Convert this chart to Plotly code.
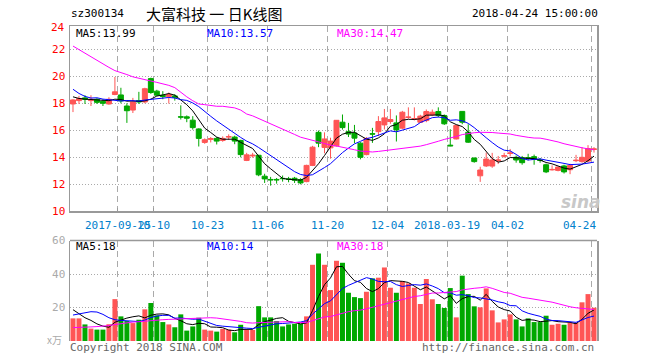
import pandas as pd
import plotly.graph_objects as go

# ---------------- data ----------------
segments = [("2017-09-13", "2017-09-29"), ("2017-10-09", "2017-12-15"),
            ("2018-03-19", "2018-04-04"), ("2018-04-09", "2018-04-24")]
dates = [d.strftime("%Y-%m-%d") for s, e in segments for d in pd.bdate_range(s, e)]

opens = [17.95, 18.2, 18.4, 18.2, 18.3, 18.15, 17.95, 18.65, 18.62, 17.8,
         17.5, 18.2, 18.1, 19.83, 18.9, 18.6, 18.5, 18.55, 17.0, 17.0,
         16.75, 16.1, 15.1, 15.33, 15.4, 15.25, 15.5, 15.5, 15.25, 13.77,
         14.1, 14.15, 12.6, 12.36, 12.36, 12.44, 12.4, 12.45, 12.35, 12.2,
         13.4, 15.85, 14.73, 14.7, 14.85, 16.6, 15.9, 15.8, 15.05, 14.2,
         15.75, 15.9, 16.4, 16.65, 16.55, 16.16, 16.95, 16.83, 16.6, 16.72,
         17.14, 17.39, 17.1, 14.9, 15.36, 17.4, 15.86, 13.95, 12.63, 13.36,
         13.35, 13.75, 14.08, 14.28, 14.0, 13.97, 13.97, 14.05, 13.8, 13.45,
         13.07, 13.03, 13.36, 13.08, 13.75, 13.68, 13.72, 14.58]
highs = [18.3, 18.55, 18.6, 18.6, 18.38, 18.3, 18.45, 19.95, 19.15, 18.0,
         18.4, 18.85, 19.15, 19.9, 19.0, 18.9, 18.8, 18.67, 17.85, 17.1,
         17.05, 16.15, 15.4, 15.5, 15.5, 15.55, 15.7, 15.6, 15.3, 14.33,
         14.33, 14.18, 12.78, 12.55, 12.47, 12.65, 12.55, 12.55, 12.45, 13.45,
         14.85, 15.98, 15.85, 15.45, 16.75, 17.17, 16.55, 16.4, 15.12, 15.5,
         16.18, 17.05, 17.58, 17.58, 17.1, 17.44, 17.7, 17.7, 17.15, 17.54,
         17.54, 17.7, 17.17, 16.08, 16.4, 17.42, 16.45, 13.97, 13.3, 14.35,
         14.33, 14.1, 14.33, 14.62, 14.13, 14.1, 14.26, 14.2, 13.94, 13.53,
         13.4, 13.28, 13.45, 13.52, 14.18, 14.75, 14.9, 14.75]
lows = [17.35, 17.95, 17.95, 17.8, 17.95, 17.8, 17.9, 18.6, 18.0, 16.55,
        17.28, 17.95, 18.0, 18.7, 18.55, 18.3, 17.98, 18.2, 16.8, 16.6,
        16.05, 14.8, 15.0, 15.1, 14.95, 15.15, 15.3, 14.97, 14.0, 13.72,
        13.97, 12.6, 12.1, 11.9, 12.05, 12.2, 12.15, 12.1, 12.0, 12.15,
        13.35, 14.75, 14.3, 13.9, 14.8, 16.05, 15.5, 15.05, 13.85, 14.15,
        15.07, 15.57, 16.06, 16.48, 15.17, 16.1, 16.85, 16.73, 16.55, 16.6,
        17.05, 16.97, 16.4, 14.82, 15.32, 16.45, 15.07, 13.6, 12.18, 13.28,
        13.22, 13.5, 13.97, 14.07, 13.6, 13.45, 13.77, 13.45, 13.6, 12.83,
        13.02, 12.96, 12.8, 12.75, 13.64, 13.6, 13.6, 14.35]
closes = [18.25, 18.35, 18.3, 18.3, 18.07, 18.0, 18.3, 18.85, 18.18, 17.45,
          18.1, 18.1, 19.08, 18.8, 18.6, 18.5, 18.65, 18.45, 16.98, 16.9,
          16.2, 15.4, 15.3, 15.38, 15.2, 15.4, 15.53, 15.2, 14.2, 14.18,
          14.15, 12.7, 12.4, 12.33, 12.33, 12.42, 12.37, 12.3, 12.1, 13.4,
          14.75, 15.05, 15.36, 15.2, 16.74, 16.2, 15.72, 15.42, 14.0, 15.4,
          15.72, 16.65, 16.92, 16.8, 16.03, 17.34, 16.98, 16.86, 17.05, 17.39,
          17.34, 17.1, 16.48, 14.85, 16.36, 16.6, 15.12, 13.68, 13.06, 13.87,
          13.8, 13.8, 14.12, 14.32, 13.8, 13.6, 13.94, 13.85, 13.77, 12.92,
          13.1, 13.28, 12.92, 13.4, 13.78, 14.0, 14.65, 14.62]
volumes = [13.5, 13.5, 9.9, 7.4, 6.8, 6.8, 10.0, 25.0, 14.7, 11.9,
           10.7, 12.7, 18.9, 22.7, 15.3, 11.3, 9.9, 8.2, 15.9, 6.2,
           8.7, 13.9, 6.8, 6.2, 5.6, 7.2, 6.8, 5.2, 9.7, 6.6,
           6.6, 20.8, 14.1, 14.1, 11.9, 8.7, 9.9, 10.3, 10.3, 14.7,
           45.5, 52.2, 45.5, 30.4, 47.9, 46.7, 28.8, 26.2, 25.6, 29.4,
           37.4, 37.8, 43.9, 31.8, 28.8, 35.8, 34.4, 31.8, 22.1, 37.0,
           24.9, 22.1, 19.7, 31.6, 14.1, 39.0, 28.0, 20.7, 20.1, 31.4,
           18.3, 11.1, 12.9, 15.9, 12.9, 8.7, 13.5, 11.3, 11.3, 15.1,
           9.7, 10.3, 9.7, 10.9, 10.9, 23.1, 28.0, 19.9]

# moving-average values visible before enough in-window history exists
ma5_head = [18.48, 18.36, 18.31, 18.27]
ma10_head = [19.04, 18.73, 18.51, 18.39, 18.41, 18.31, 18.27, 18.22, 18.17]
ma30_head = [22.24, 21.97, 21.73, 21.44, 21.2, 20.93, 20.66, 20.42, 20.3, 20.13,
             19.96, 19.84, 19.74, 19.65, 19.55, 19.45, 19.33, 19.16, 18.8, 18.48,
             18.19, 17.95, 17.9, 17.83, 17.78, 17.78, 17.74, 17.66, 17.5]
vma5_head = [18.7, 16.3, 13.9, 12.3]
vma10_head = [15.5, 16.3, 17.1, 17.5, 17.3, 15.9, 13.9, 12.7, 12.3]
vma30_head = [8.0, 8.0, 8.2, 8.4, 8.6, 8.8, 9.2, 9.8, 10.4, 10.8,
              11.3, 11.5, 11.9, 12.3, 12.5, 12.7, 12.9, 13.1, 13.3, 13.5,
              13.7, 13.9, 13.9, 13.9, 13.7, 13.3, 12.7, 12.1, 11.7]

tick_dates = ["2017-09-25", "2017-10-10", "2017-10-23", "2017-11-06", "2017-11-20",
              "2017-12-04", "2018-03-19", "2018-04-02", "2018-04-24"]
tick_labels = ["2017-09-25", "10-10", "10-23", "11-06", "11-20",
               "12-04", "2018-03-19", "04-02", "04-24"]

ma_labels = ["MA5:13.99", "MA10:13.57", "MA30:14.47"]
vma_labels = ["MA5:18", "MA10:14", "MA30:18"]
code = "sz300134"
title = "大富科技 一 日K线图"
stamp = "2018-04-24 15:00:00"


def moving(vals, n, head):
    out = list(head)
    for i in range(len(head), len(vals)):
        out.append(sum(vals[i - n + 1:i + 1]) / n)
    return out


x = list(range(len(dates)))
ma5 = moving(closes, 5, ma5_head)
ma10 = moving(closes, 10, ma10_head)
ma30 = moving(closes, 30, ma30_head)
vma5 = moving(volumes, 5, vma5_head)
vma10 = moving(volumes, 10, vma10_head)
vma30 = moving(volumes, 30, vma30_head)

RED = "#ff5555"
GREEN = "#00a800"
vol_colors = [RED if c >= o else GREEN for o, c in zip(opens, closes)]
tick_pos = [dates.index(d) - 0.5 for d in tick_dates]

# ---------------- layout geometry (pixels) ----------------
W, H = 660, 360
L, R, T, B = 70, 597.5, 26, 341
PW, PH = R - L, B - T
main_bottom_px, vol_top_px = 211.3, 240.5


def px(xp):
    return (xp - L) / PW


def py(yp):
    return (B - yp) / PH


MONO = "DejaVu Sans Mono"

fig = go.Figure()
fig.add_trace(go.Candlestick(
    x=x, open=opens, high=highs, low=lows, close=closes,
    increasing=dict(line=dict(color=RED, width=1), fillcolor=RED),
    decreasing=dict(line=dict(color=GREEN, width=1), fillcolor=GREEN),
    whiskerwidth=0, xaxis="x", yaxis="y", hoverinfo="skip"))
for vals, col in [(ma5, "#000000"), (ma10, "#0000ff"), (ma30, "#ff00ff")]:
    fig.add_trace(go.Scatter(x=x, y=vals, mode="lines", line=dict(color=col, width=1),
                             xaxis="x", yaxis="y", hoverinfo="skip"))
fig.add_trace(go.Bar(x=x, y=volumes, marker=dict(color=vol_colors, line=dict(width=0)),
                     width=0.83, xaxis="x2", yaxis="y2", hoverinfo="skip"))
for vals, col in [(vma5, "#000000"), (vma10, "#0000ff"), (vma30, "#ff00ff")]:
    fig.add_trace(go.Scatter(x=x, y=vals, mode="lines", line=dict(color=col, width=1),
                             xaxis="x2", yaxis="y2", hoverinfo="skip"))

xcommon = dict(range=[-0.5, len(dates) - 0.5], tickmode="array", tickvals=tick_pos,
               showticklabels=False, showgrid=True, gridcolor="#aaaaaa", griddash="6px,4px",
               gridwidth=1, zeroline=False, fixedrange=True)
main_top = 10 + (main_bottom_px - T) / 13.5
fig.update_layout(
    width=W, height=H, margin=dict(l=L, r=W - R, t=T, b=H - B),
    paper_bgcolor="white", plot_bgcolor="white", showlegend=False,
    boxgap=0.17, boxgroupgap=0,
    xaxis=dict(**xcommon, domain=[0, 1], anchor="y", rangeslider=dict(visible=False),
               ticks="inside", ticklen=3, tickcolor="#999999",
               showline=True, linecolor="#999999", linewidth=1.5, mirror=True),
    yaxis=dict(domain=[py(main_bottom_px), 1], range=[10, main_top], anchor="x",
               tickmode="array", tickvals=[10, 12, 14, 16, 18, 20, 22],
               tickfont=dict(family=MONO, size=11, color="#ff0000"),
               showgrid=True, gridcolor="#aaaaaa", griddash="1px,2px", zeroline=False,
               showline=True, linecolor="#999999", linewidth=1.5, mirror=True,
               ticks="outside", ticklen=1, tickcolor="rgba(0,0,0,0)", fixedrange=True),
    xaxis2=dict(**xcommon, domain=[0, 1], anchor="y2", showline=False),
    yaxis2=dict(domain=[0, py(vol_top_px)], range=[0, 60], anchor="x2",
                tickmode="array", tickvals=[20, 40, 60],
                tickfont=dict(family=MONO, size=11, color="#aaaaaa"),
                showgrid=True, gridcolor="#aaaaaa", griddash="1px,2px", zeroline=False,
                showline=True, linecolor="#999999", linewidth=1.5, mirror=True,
                ticks="outside", ticklen=1, tickcolor="rgba(0,0,0,0)", fixedrange=True),
)
fig.add_shape(type="line", xref="x2 domain", yref="y2 domain", x0=0, x1=1, y0=1, y1=1,
              line=dict(color="#999999", width=1.5))

ann = []


def text(t, xp, yp, anchor="left", color="#000000", size=11, family=MONO, **kw):
    ann.append(dict(text=t, x=px(xp), y=py(yp), xref="paper", yref="paper",
                    xanchor=anchor, yanchor="middle", showarrow=False,
                    font=dict(family=family, size=size, color=color), **kw))


text(code, 69, 14, size=11)
text(title, 214, 14, anchor="center", size=15, family="Noto Sans CJK SC")
text(stamp, 601, 14, anchor="right", size=11)
text("24", 67, 28, anchor="right", color="#ff0000", size=11)
for lab, xp, col in zip(ma_labels, [74, 205, 335], ["#000000", "#0000ff", "#ff00ff"]):
    text(lab, xp, 33, color=col, size=11)
for lab, xp, col in zip(vma_labels, [74, 205, 335], ["#000000", "#0000ff", "#ff00ff"]):
    text(lab, xp, 246, color=col, size=11)
text("x万", 64, 339, anchor="right", color="#aaaaaa", size=10, family="Noto Sans CJK SC")
text("Copyright 2018 SINA.COM", 68, 347, color="#666666", size=11)
text("http://finance.sina.com.cn", 596, 347, anchor="right", color="#666666", size=11)
text("<b><i>sina</i></b>", 581, 202, anchor="center", color="#c8c8c8", size=17,
     family="DejaVu Sans")

for pos, lab, i in zip(tick_pos, tick_labels, range(len(tick_labels))):
    last = i == len(tick_labels) - 1
    ann.append(dict(text=lab, x=pos, y=py(225), xref="x", yref="paper",
                    xanchor="center", yanchor="middle", showarrow=False,
                    xshift=-12 if last else 0,
                    font=dict(family=MONO, size=11, color="#0080cc")))

fig.update_layout(annotations=ann)
fig.write_html("out.html", config={"displayModeBar": False, "staticPlot": True},
               post_script="document.body.style.margin='0';document.body.style.overflow='hidden';")
